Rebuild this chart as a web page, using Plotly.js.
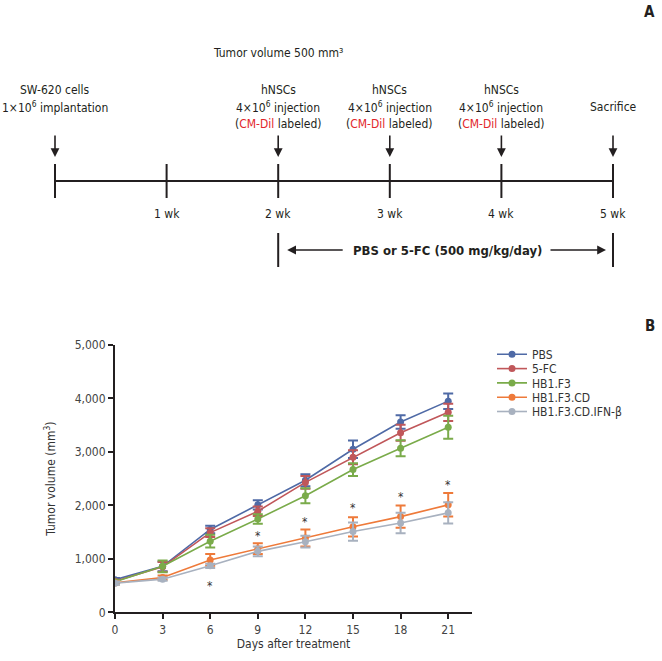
<!DOCTYPE html>
<html><head><meta charset="utf-8">
<script src="https://cdn.plot.ly/plotly-3.0.1.min.js"></script>
<style>html,body{margin:0;padding:0;background:#fff;}</style>
</head><body><div id="chart" style="width:662px;height:661px;"></div>
<script>
// ---------- Panel B data ----------
const days = [0, 3, 6, 9, 12, 15, 18, 21];
const seriesNames = ['PBS', '5-FC', 'HB1.F3', 'HB1.F3.CD', 'HB1.F3.CD.IFN-β'];
const pbsMean   = [610, 860, 1550, 2010, 2470, 3050, 3560, 3950];
const pbsErr    = [30, 90, 70, 85, 110, 165, 125, 145];
const fcMean    = [580, 850, 1490, 1890, 2430, 2900, 3360, 3740];
const fcErr     = [30, 90, 80, 90, 120, 130, 150, 160];
const f3Mean    = [570, 860, 1330, 1745, 2180, 2670, 3070, 3460];
const f3Err     = [30, 110, 120, 90, 140, 120, 150, 215];
const cdMean    = [550, 650, 980, 1190, 1390, 1600, 1790, 2010];
const cdErr     = [30, 40, 110, 100, 160, 180, 210, 220];
const ifnMean   = [545, 620, 870, 1140, 1320, 1510, 1670, 1860];
const ifnErr    = [30, 30, 40, 90, 110, 170, 190, 200];
const starDays   = [6, 9, 12, 15, 18, 21];
const starValues = [544, 1482, 1745, 2013, 2220, 2431];
const yTicks = [0, 1000, 2000, 3000, 4000, 5000];

// ---------- Panel A data ----------
const weekTicks  = [0, 1, 2, 3, 4, 5];
const weekLabels = ['', '1 wk', '2 wk', '3 wk', '4 wk', '5 wk'];
const eventWeeks = [0, 2, 3, 4, 5];
const RED = '<span style="color:#e2252b">CM-Dil</span>';
const eventTexts = [
  ['SW-620 cells', '1×10<sup>6</sup> implantation', ''],
  ['hNSCs', '4×10<sup>6</sup> injection', '(' + RED + ' labeled)'],
  ['hNSCs', '4×10<sup>6</sup> injection', '(' + RED + ' labeled)'],
  ['hNSCs', '4×10<sup>6</sup> injection', '(' + RED + ' labeled)'],
  ['', 'Sacrifice', '']
];
const milestoneWeek = 2;
const milestoneText = 'Tumor volume 500 mm³';
const treatStartWeek = 2, treatEndWeek = 5;
const treatText = 'PBS or 5-FC (500 mg/kg/day)';

// ---------- styling ----------
const W = 662, H = 661;
const FONT = "'DejaVu Sans Condensed', 'Liberation Sans Narrow', 'Arial Narrow', sans-serif";
const INK = '#231f20';
const colors = ['#4f6aa6', '#c0575a', '#7aab4a', '#ee7a3a', '#a8b1bf'];
const means = [pbsMean, fcMean, f3Mean, cdMean, ifnMean];
const errs  = [pbsErr, fcErr, f3Err, cdErr, ifnErr];

// timeline geometry (pixels)
const wk0px = 55, wk5px = 613;
const pxPerWk = (wk5px - wk0px) / 5;
const x2range = [-wk0px / pxPerWk, (W - wk0px) / pxPerWk];
const pxToWk = px => (px - wk0px) / pxPerWk;

const traces = seriesNames.map((name, i) => ({
  type: 'scatter', mode: 'lines+markers', name: name,
  x: days, y: means[i],
  xaxis: 'x', yaxis: 'y',
  legend: i === 0 ? 'legend' : 'legend' + (i + 1),
  line: {color: colors[i], width: 1.6},
  marker: {color: colors[i], size: 7},
  error_y: {type: 'data', array: errs[i], visible: true, color: colors[i], thickness: 2, width: 5}
}));

const shapes = [];
const annotations = [];
const lineStyle = {color: INK, width: 2};
shapes.push({type: 'line', xref: 'x2', yref: 'y2', x0: weekTicks[0], x1: weekTicks[weekTicks.length - 1], y0: 181, y1: 181, line: lineStyle});
weekTicks.forEach((w, i) => {
  shapes.push({type: 'line', xref: 'x2', yref: 'y2', x0: w, x1: w, y0: 164, y1: 198, line: lineStyle});
  if (weekLabels[i]) annotations.push({xref: 'x2', yref: 'y2', x: w, y: 214, text: weekLabels[i], showarrow: false,
    font: {family: FONT, size: 12, color: INK}, xanchor: 'center', yanchor: 'middle'});
});
[treatStartWeek, treatEndWeek].forEach(w => {
  shapes.push({type: 'line', xref: 'x2', yref: 'y2', x0: w, x1: w, y0: 233, y1: 267, line: lineStyle});
});
const rowY = [90, 107, 124];
eventWeeks.forEach((w, i) => {
  eventTexts[i].forEach((t, r) => {
    if (!t) return;
    annotations.push({xref: 'x2', yref: 'y2', x: w, y: rowY[r], text: t, showarrow: false,
      font: {family: FONT, size: 12, color: INK}, xanchor: 'center', yanchor: 'middle'});
  });
  annotations.push({xref: 'x2', yref: 'y2', x: w, y: 157, ax: w, ay: 134, axref: 'x2', ayref: 'y2',
    text: '', showarrow: true, arrowhead: 2, arrowsize: 1.1, arrowwidth: 1.6, arrowcolor: INK});
});
annotations.push({xref: 'x2', yref: 'y2', x: milestoneWeek, y: 53, text: milestoneText, showarrow: false,
  font: {family: FONT, size: 12, color: INK}, xanchor: 'center', yanchor: 'middle'});
// treatment double arrow
annotations.push({xref: 'x2', yref: 'y2', x: (treatStartWeek + treatEndWeek) / 2 + pxToWk(wk0px + 2), y: 250,
  text: '<b>' + treatText + '</b>', showarrow: false, font: {family: FONT, size: 13, color: INK},
  xanchor: 'center', yanchor: 'middle'});
annotations.push({xref: 'x2', yref: 'y2', x: treatStartWeek + pxToWk(wk0px + 9), y: 250,
  ax: treatStartWeek + pxToWk(wk0px + 66), ay: 250, axref: 'x2', ayref: 'y2',
  text: '', showarrow: true, arrowhead: 2, arrowsize: 1.1, arrowwidth: 1.6, arrowcolor: INK});
annotations.push({xref: 'x2', yref: 'y2', x: treatEndWeek - pxToWk(wk0px + 7), y: 250,
  ax: treatEndWeek - pxToWk(wk0px + 64), ay: 250, axref: 'x2', ayref: 'y2',
  text: '', showarrow: true, arrowhead: 2, arrowsize: 1.1, arrowwidth: 1.6, arrowcolor: INK});
// panel letters
annotations.push({xref: 'paper', yref: 'paper', x: 649 / W, y: 1 - 12 / H, text: '<b>A</b>', showarrow: false,
  font: {family: FONT, size: 15, color: INK}, xanchor: 'center', yanchor: 'middle'});
annotations.push({xref: 'paper', yref: 'paper', x: 650 / W, y: 1 - 326 / H, text: '<b>B</b>', showarrow: false,
  font: {family: FONT, size: 15, color: INK}, xanchor: 'center', yanchor: 'middle'});
// significance stars
starDays.forEach((d, i) => {
  annotations.push({xref: 'x', yref: 'y', x: d, y: starValues[i], text: '*', showarrow: false,
    font: {family: FONT, size: 12, color: '#333'}, xanchor: 'center', yanchor: 'middle', yshift: -3});
});

const layout = {
  width: W, height: H,
  margin: {l: 0, r: 0, t: 0, b: 0},
  paper_bgcolor: '#fff', plot_bgcolor: 'rgba(0,0,0,0)',
  font: {family: FONT, size: 12, color: '#333'},
  showlegend: true,
  xaxis: {domain: [115 / W, 472 / W], range: [0, 22.5], anchor: 'y',
    tickvals: days, ticks: 'outside', ticklen: 5, tickwidth: 2, tickcolor: INK,
    showline: true, linewidth: 2, linecolor: INK, showgrid: false, zeroline: false,
    tickfont: {family: FONT, size: 12, color: '#444'},
    title: {text: 'Days after treatment', font: {family: FONT, size: 12, color: '#333'}, standoff: 4}},
  yaxis: {domain: [(H - 612.3) / H, (H - 345) / H], range: [0, 5000], anchor: 'x',
    tickvals: yTicks, tickformat: ',', ticks: 'outside', ticklen: 5, tickwidth: 2, tickcolor: INK,
    showline: true, linewidth: 2, linecolor: INK, showgrid: false, zeroline: false,
    tickfont: {family: FONT, size: 12, color: '#444'},
    title: {text: 'Tumor volume (mm<sup>3</sup>)', font: {family: FONT, size: 12, color: '#333'}, standoff: 16}},
  xaxis2: {domain: [0, 1], range: x2range, anchor: 'y2', visible: false, fixedrange: true},
  yaxis2: {domain: [0, 1], range: [H, 0], anchor: 'x2', visible: false, fixedrange: true},
  shapes: shapes,
  annotations: annotations
};
seriesNames.forEach((n, i) => {
  const key = i === 0 ? 'legend' : 'legend' + (i + 1);
  layout[key] = {x: 492 / W, xanchor: 'left', y: 1 - (354.3 + 14.3 * i) / H, yanchor: 'middle',
    bgcolor: 'rgba(0,0,0,0)', borderwidth: 0, font: {family: FONT, size: 12, color: '#333'}};
});
traces.push({type: 'scatter', x: [], y: [], xaxis: 'x2', yaxis: 'y2', showlegend: false, hoverinfo: 'skip'});

Plotly.newPlot('chart', traces, layout, {displayModeBar: false, staticPlot: true});
</script>
</body></html>
